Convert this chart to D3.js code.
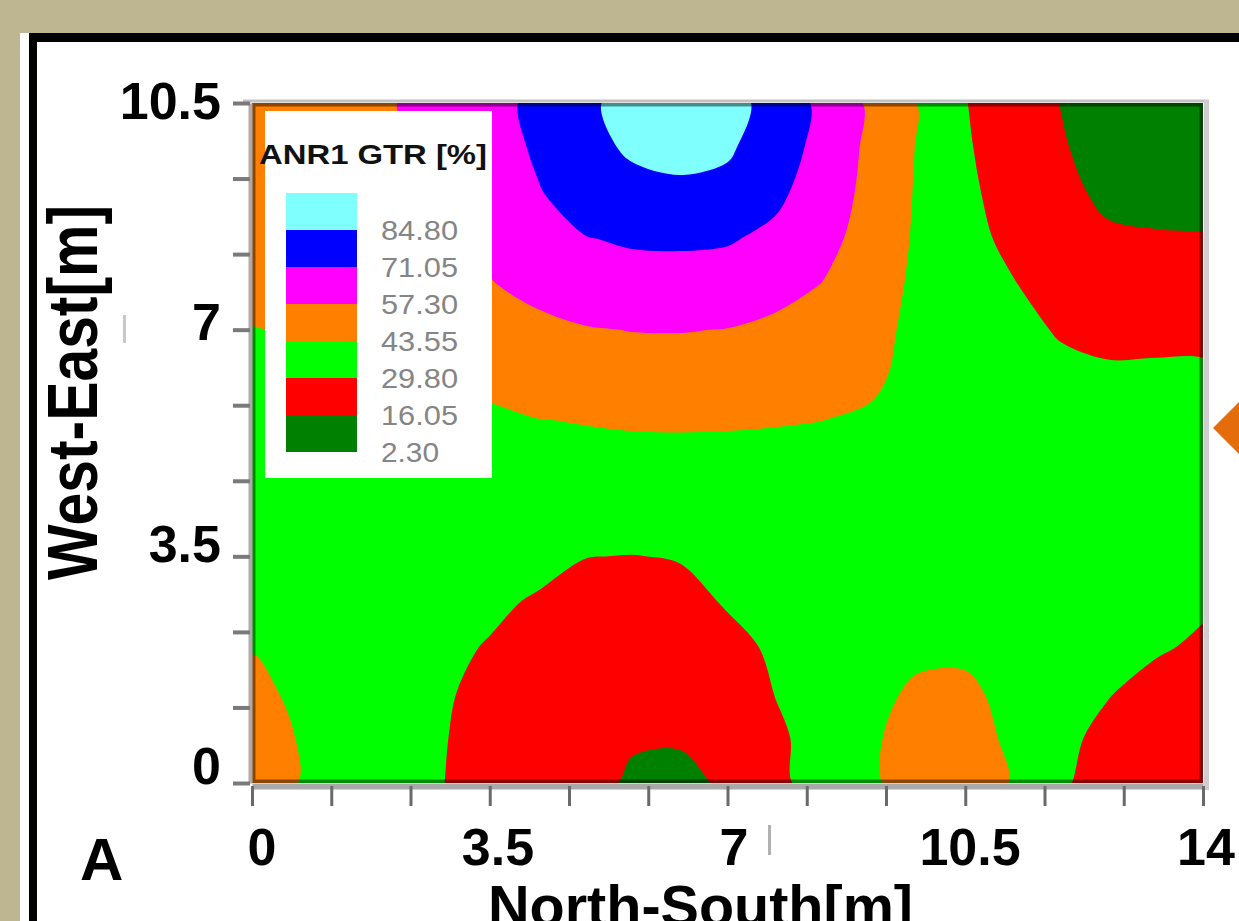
<!DOCTYPE html>
<html>
<head>
<meta charset="utf-8">
<title>ANR1 GTR contour</title>
<script src="https://cdnjs.cloudflare.com/ajax/libs/d3/7.8.5/d3.min.js"></script>
<style>
  body { margin: 0; background: #beb691; }
  svg { display: block; }
  text { font-family: "Liberation Sans", Arial, sans-serif; }
</style>
</head>
<body>
<svg></svg>
<script>
// grid spacing of the measured field [m]
var xStep = 0.7, yStep = 0.7, xMax = 14, yMax = 10.5;
var xTickLabels = [0, 3.5, 7, 10.5, 14];
var yTickLabels = [0, 3.5, 7, 10.5];
var levels = [2.30, 16.05, 29.80, 43.55, 57.30, 71.05, 84.80];
var levelColors = ["#008000", "#ff0000", "#00ff00", "#ff8000", "#ff00ff", "#0000ff", "#80ffff"];

// GTR [%], rows from West-East = 10.5 (top) down to 0, columns North-South 0..14
var gridRows = [
  [53, 51.5, 50, 57.1, 61, 66, 74.5, 82, 90, 98, 90, 79.5, 68, 55.3, 43.2, 30.2, 23, 15.8, 9, 7, 6],
  [51, 50, 49, 55, 59, 64, 73, 81, 86.5, 89.7, 86.5, 77.5, 67, 54.5, 42.8, 31, 24, 17.5, 10, 8, 7],
  [49, 48.5, 48, 52.5, 56.5, 61.5, 70, 77, 81, 81.4, 81, 73.5, 65, 53.5, 42.3, 32, 25.5, 19.5, 13.5, 11, 10.5],
  [47, 47, 46.5, 50, 53.5, 59.5, 66, 70.5, 72.5, 73.1, 72, 68.5, 61.5, 52, 41.8, 33, 27.5, 22.5, 18, 17.5, 17],
  [45.6, 45.5, 45.3, 48, 50.5, 56.8, 60, 65, 66, 65.4, 66, 62, 57, 50, 41, 34, 30.3, 25.5, 22, 22.5, 22.5],
  [43.3, 44.2, 44.5, 46, 47.5, 52, 55, 56.5, 57.6, 57.8, 57.0, 54.5, 52, 48, 40, 35, 32.5, 29, 26.5, 27, 27],
  [41.5, 42.5, 43.0, 43.7, 44.5, 46, 49.5, 51, 51.5, 51.3, 51.5, 49, 48, 46, 39.5, 36, 34.5, 32, 31.5, 31.5, 31.5],
  [40, 40.5, 41, 41.5, 41.5, 42, 43.3, 44.0, 44.5, 44.9, 44.5, 44.2, 43.6, 42, 39, 37, 36, 34.5, 34.5, 34, 33.5],
  [39, 39, 39, 39, 38.5, 39, 39.5, 40, 40.5, 39.9, 40.5, 40, 40.5, 40, 38.5, 37.5, 37, 36, 36, 35.5, 34.5],
  [39, 38, 37.5, 37, 36, 36, 36, 35.5, 35.5, 35.3, 36, 37, 38, 38.5, 38.5, 38, 37.5, 36.5, 36, 35, 34],
  [40, 38, 36.5, 35.5, 34, 33.5, 32.5, 30.0, 29.6, 30.3, 32.5, 34.5, 36.5, 38, 39, 38.5, 38, 36.5, 35, 33.5, 32.5],
  [41.5, 39, 36.5, 34.5, 32.5, 31.3, 29, 26.5, 25.5, 27.1, 30.5, 32.5, 35, 38.5, 40, 40, 38.5, 36, 33.5, 32, 31.0],
  [43.2, 40.5, 37, 34, 31.5, 29.3, 25.5, 23, 22, 23.7, 27.5, 31, 34, 39.5, 41.5, 41.5, 39.5, 35, 31.5, 30.8, 28.5],
  [45.5, 42, 38, 34, 30.8, 27.5, 23.5, 20.5, 19, 20.3, 24, 30.0, 33.5, 41, 45.0, 45.5, 40.5, 33.5, 30.3, 27, 25.5],
  [47, 43.2, 39, 34.5, 30.3, 26.5, 22.5, 18.5, 16.8, 17.0, 20.5, 28.3, 33, 42.3, 47, 48, 41.5, 32, 27.5, 24, 22.5],
  [47.5, 43.4, 39.5, 35, 30.0, 26, 22, 18.5, 15, 13.5, 17.5, 28, 33, 42.0, 48, 49, 43, 31.2, 25.5, 22.5, 21]
];

var W = 1239, H = 921;
var svg = d3.select("svg").attr("width", W).attr("height", H);

// slide frame
svg.append("rect").attr("width", W).attr("height", H).attr("fill", "#beb691");
svg.append("rect").attr("x", 20).attr("y", 33).attr("width", W).attr("height", H).attr("fill", "#fff");
svg.append("rect").attr("x", 29).attr("y", 33).attr("width", 8).attr("height", H).attr("fill", "#000");
svg.append("rect").attr("x", 29).attr("y", 33).attr("width", W).attr("height", 9).attr("fill", "#000");

var x = d3.scaleLinear().domain([0, xMax]).range([252, 1203]);
var y = d3.scaleLinear().domain([0, yMax]).range([783, 103]);
// labels sit slightly off the ticks in the original
var xLab = d3.scaleLinear().domain([0, xMax]).range([262, 1206]);
var yLab = d3.scaleLinear().domain([0, yMax]).range([765, 100]);

svg.append("clipPath").attr("id", "plotClip").append("rect")
  .attr("x", x(0)).attr("y", y(yMax)).attr("width", x(xMax) - x(0)).attr("height", y(0) - y(yMax));

var plot = svg.append("g").attr("clip-path", "url(#plotClip)");
plot.append("rect")
  .attr("x", x(0)).attr("y", y(yMax)).attr("width", x(xMax) - x(0)).attr("height", y(0) - y(yMax))
  .attr("fill", levelColors[0]);

var nx = gridRows[0].length, ny = gridRows.length;
var values = [].concat.apply([], gridRows);
var contours = d3.contours().size([nx, ny]).thresholds(levels.slice(1))(values);

var ringLine = d3.line()
  .x(function(p) { return x((p[0] - 0.5) * xStep); })
  .y(function(p) { return y(yMax - (p[1] - 0.5) * yStep); })
  .curve(d3.curveCatmullRomClosed.alpha(0.5));

function contourPath(mp) {
  return mp.coordinates.map(function(poly) {
    return poly.map(function(ring) { return ringLine(ring.slice(0, -1)); }).join("");
  }).join("");
}

plot.selectAll("path.band").data(contours).enter().append("path")
  .attr("class", "band")
  .attr("d", contourPath)
  .attr("fill-rule", "evenodd")
  .attr("fill", function(d, i) { return levelColors[i + 1]; });

// darker rim of the bitmap along the plot border
plot.append("rect")
  .attr("x", x(0)).attr("y", y(yMax)).attr("width", x(xMax) - x(0)).attr("height", y(0) - y(yMax))
  .attr("fill", "none").attr("stroke", "rgba(0,0,0,0.45)").attr("stroke-width", 7);

// frame lines
svg.append("line").attr("x1", 243).attr("x2", 1209).attr("y1", 101).attr("y2", 101)
  .attr("stroke", "#c2c2c2").attr("stroke-width", 3);
svg.append("line").attr("x1", 1206.5).attr("x2", 1206.5).attr("y1", 100).attr("y2", 790)
  .attr("stroke", "#d0ccd0").attr("stroke-width", 5);

var tickVals = d3.range(0, 13).map(function(k) { return k * 7 / 6; });

var xAxis = svg.append("g").attr("transform", "translate(0,786)")
  .call(d3.axisBottom(x).tickValues(tickVals).tickSize(20).tickSizeOuter(0).tickFormat(""));
xAxis.select(".domain").attr("stroke", "#a9a9a9").attr("stroke-width", 6);
xAxis.selectAll(".tick line").attr("stroke", "#6a6a6a").attr("stroke-width", 3);

var yAxis = svg.append("g").attr("transform", "translate(250,0)")
  .call(d3.axisLeft(y).tickValues(tickVals.filter(function(v) { return v <= yMax + 1e-9; }))
    .tickSize(17).tickSizeOuter(0).tickFormat(""));
yAxis.select(".domain").attr("stroke", "#b0aaaa").attr("stroke-width", 4);
yAxis.selectAll(".tick line").attr("stroke", "#7a7a7a").attr("stroke-width", 4);

var fmt = function(v) { return String(v); };

svg.append("g").selectAll("text").data(yTickLabels).enter().append("text")
  .attr("x", 221).attr("y", function(d) { return yLab(d); }).attr("dy", "0.36em")
  .attr("text-anchor", "end").attr("font-size", 52).attr("font-weight", "bold")
  .text(fmt);

svg.append("g").selectAll("text").data(xTickLabels).enter().append("text")
  .attr("x", function(d) { return xLab(d); }).attr("y", 865)
  .attr("text-anchor", "middle").attr("font-size", 52).attr("font-weight", "bold")
  .text(fmt);

svg.append("text").attr("x", 80).attr("y", 880)
  .attr("font-size", 60).attr("font-weight", "bold").text("A");

svg.append("text").attr("x", 488).attr("y", 926)
  .attr("font-size", 57).attr("font-weight", "bold")
  .attr("textLength", 425).attr("lengthAdjust", "spacingAndGlyphs")
  .text("North-South[m]");

svg.append("text").attr("transform", "translate(97,580) rotate(-90)")
  .attr("font-size", 70).attr("font-weight", "bold")
  .attr("textLength", 375).attr("lengthAdjust", "spacingAndGlyphs")
  .text("West-East[m]");

// scan specks
svg.append("rect").attr("x", 123).attr("y", 315).attr("width", 3).attr("height", 28).attr("fill", "#c8c8c8");
svg.append("rect").attr("x", 768).attr("y", 825).attr("width", 3).attr("height", 30).attr("fill", "#b0b0b0");

// legend
var legend = svg.append("g");
legend.append("rect").attr("x", 265).attr("y", 111).attr("width", 227).attr("height", 367).attr("fill", "#fff");
legend.append("text").attr("x", 259).attr("y", 164)
  .attr("font-size", 28).attr("font-weight", "bold").attr("fill", "#111")
  .attr("textLength", 228).attr("lengthAdjust", "spacingAndGlyphs")
  .text("ANR1  GTR [%]");

var legendItems = levels.map(function(v, i) { return { value: v, color: levelColors[i] }; }).reverse();
var swatch = d3.scaleBand().domain(d3.range(legendItems.length)).range([193, 452]);

legend.selectAll("rect.sw").data(legendItems).enter().append("rect")
  .attr("class", "sw")
  .attr("x", 286).attr("width", 71)
  .attr("y", function(d, i) { return swatch(i); })
  .attr("height", swatch.bandwidth())
  .attr("fill", function(d) { return d.color; });

legend.selectAll("text.lab").data(legendItems).enter().append("text")
  .attr("class", "lab")
  .attr("x", 381)
  .attr("y", function(d, i) { return swatch(i) + swatch.bandwidth(); })
  .attr("dy", "0.36em")
  .attr("font-size", 28).attr("fill", "#858585")
  .attr("textLength", function(d) { return d.value < 10 ? 58 : 77; })
  .attr("lengthAdjust", "spacingAndGlyphs")
  .text(function(d) { return d3.format(".2f")(d.value); });

// slide navigation marker at the right edge
svg.append("path")
  .attr("d", d3.symbol().type(d3.symbolSquare).size(2 * 26 * 26)())
  .attr("transform", "translate(1239,428) rotate(45)")
  .attr("fill", "#e46c0a");
</script>
</body>
</html>
